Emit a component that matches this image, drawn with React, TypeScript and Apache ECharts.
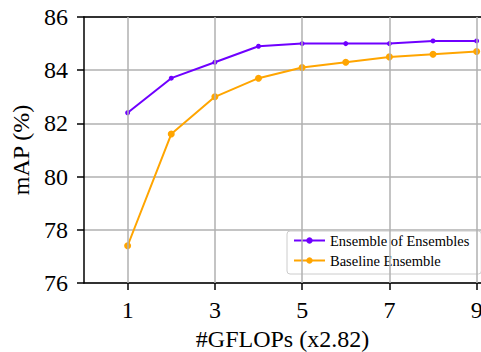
import React, { useEffect, useRef } from "react";
import * as echarts from "echarts";

const xValues = [1, 2, 3, 4, 5, 6, 7, 8, 9];
const ensembleOfEnsembles = [82.4, 83.7, 84.3, 84.9, 85.0, 85.0, 85.0, 85.1, 85.1];
const baselineEnsemble = [77.4, 81.6, 83.0, 83.7, 84.1, 84.3, 84.5, 84.6, 84.7];
const seriesNames = ["Ensemble of Ensembles", "Baseline Ensemble"];
const xTicks = [1, 3, 5, 7, 9];

const FONT = "Liberation Serif";

export default function App() {
  const ref = useRef<HTMLDivElement>(null);
  useEffect(() => {
    if (!ref.current) return;
    const chart = echarts.init(ref.current, null, { renderer: "svg" });
    const pair = (ys: number[]) => xValues.map((x, i) => [x, ys[i]]);
    chart.setOption({
      animation: false,
      backgroundColor: "#ffffff",
      textStyle: { fontFamily: FONT },
      grid: {
        left: 84,
        right: 0,
        top: 17,
        bottom: 69,
        containLabel: false,
        outerBoundsMode: "none",
      },
      xAxis: [
        {
          type: "value",
          min: 0,
          max: 9.1,
          interval: 1,
          name: "#GFLOPs (x2.82)",
          nameLocation: "middle",
          nameGap: 41,
          nameTextStyle: { fontFamily: FONT, fontSize: 24, color: "#000" },
          axisLine: { show: true, onZero: false, lineStyle: { color: "#000", width: 1.5 } },
          axisTick: {
            show: true,
            length: 7,
            lineStyle: { color: "#000", width: 1.5 },
            customValues: xTicks,
          },
          axisLabel: {
            fontFamily: FONT,
            fontSize: 24,
            color: "#000",
            margin: 15,
            customValues: xTicks,
            showMinLabel: true,
            showMaxLabel: true,
          },
          splitLine: { show: false },
        },
        {
          type: "value",
          position: "top",
          min: 0,
          max: 9.1,
          axisLine: { show: true, onZero: false, lineStyle: { color: "#000", width: 1.5 } },
          axisTick: { show: false },
          axisLabel: { show: false },
          splitLine: { show: false },
        },
      ],
      yAxis: {
        type: "value",
        min: 76,
        max: 86,
        interval: 2,
        name: "mAP (%)",
        nameLocation: "middle",
        nameGap: 51,
        nameTextStyle: { fontFamily: FONT, fontSize: 24, color: "#000" },
        axisLine: { show: true, onZero: false, lineStyle: { color: "#000", width: 1.5 } },
        axisTick: { show: true, length: 7, lineStyle: { color: "#000", width: 1.5 } },
        axisLabel: { fontFamily: FONT, fontSize: 24, color: "#000", margin: 16 },
        splitLine: { show: true, lineStyle: { color: "#b0b0b0", width: 1.5 } },
      },
      series: [
        {
          type: "line",
          name: "grid-x",
          xAxisIndex: 0,
          data: [],
          markLine: {
            silent: true,
            symbol: "none",
            label: { show: false },
            lineStyle: { color: "#b0b0b0", width: 1.5, type: "solid" },
            data: xTicks.map((x) => ({ xAxis: x })),
          },
          z: 0,
        },
        {
          type: "line",
          name: seriesNames[0],
          data: pair(ensembleOfEnsembles),
          color: "#6f00ff",
          symbol: "circle",
          symbolSize: 5,
          lineStyle: { width: 2, color: "#6f00ff" },
          itemStyle: { color: "#6f00ff" },
          z: 3,
        },
        {
          type: "line",
          name: seriesNames[1],
          data: pair(baselineEnsemble),
          color: "#ffa500",
          symbol: "circle",
          symbolSize: 7,
          lineStyle: { width: 2, color: "#ffa500" },
          itemStyle: { color: "#ffa500" },
          z: 2,
        },
      ],
      legend: {
        data: [
          { name: seriesNames[0], itemStyle: { color: "#6f00ff" } },
          { name: seriesNames[1], itemStyle: { color: "#ffa500" } },
        ],
        orient: "vertical",
        left: 287,
        top: 231,
        padding: [2, 12, 6, 6],
        itemGap: 5,
        itemWidth: 31,
        itemHeight: 8,
        borderColor: "#cccccc",
        borderWidth: 1,
        borderRadius: 3,
        backgroundColor: "rgba(255,255,255,0.8)",
        textStyle: { fontFamily: FONT, fontSize: 14.5, color: "#000" },
      },
    });
    return () => chart.dispose();
  }, []);
  return (
    <div
      ref={ref}
      style={{ position: "fixed", left: 0, top: 0, width: 481, height: 352 }}
    />
  );
}
